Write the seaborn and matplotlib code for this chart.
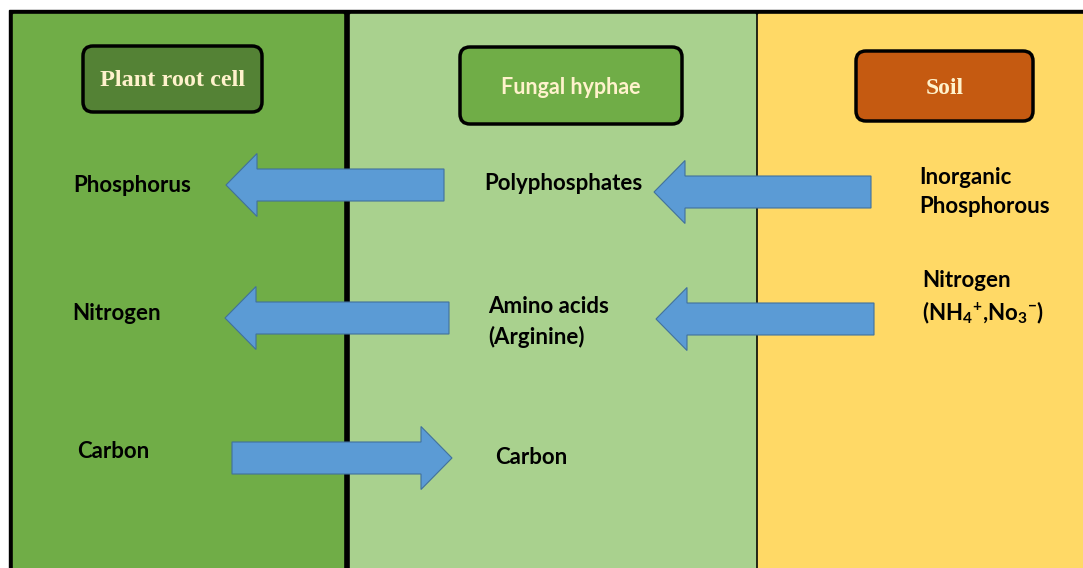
import matplotlib
matplotlib.use('Agg')
import matplotlib.pyplot as plt
import seaborn as sns
from matplotlib.patches import Rectangle, FancyBboxPatch, FancyArrow

# panels (left to right)
panel_names = ['Plant root cell', 'Fungal hyphae', 'Soil']
panel_colors = ['#70AD47', '#A9D18E', '#FFD966']
header_colors = ['#548235', '#70AD47', '#C55A11']
header_fonts = ['Liberation Serif', 'Lato', 'Liberation Serif']

# what each panel holds, row by row
root_labels = ['Phosphorus', 'Nitrogen', 'Carbon']
hyphae_labels = ['Polyphosphates', 'Amino acids\n(Arginine)', 'Carbon']
soil_labels = ['Inorganic\nPhosphorous',
               'Nitrogen\n(NH$_4$$^{{+}}$,No$_3$$^{{-}}$)', '']

# transfers: (from panel, to panel, row)
flows = [(1, 0, 0), (2, 1, 0), (1, 0, 1), (2, 1, 1), (0, 1, 2)]

sns.set_style('white')
plt.rcParams['font.family'] = ['Lato', 'DejaVu Sans']
plt.rcParams['mathtext.fontset'] = 'custom'
plt.rcParams['mathtext.bf'] = 'Lato:bold'
plt.rcParams['mathtext.rm'] = 'Lato:bold'
plt.rcParams['mathtext.default'] = 'bf'

W, H = 1083, 568
fig = plt.figure(figsize=(W / 100, H / 100), dpi=100)
ax = fig.add_axes([0, 0, 1, 1])
ax.set_xlim(0, W)
ax.set_ylim(H, 0)
ax.axis('off')

# layout (pixel space)
panel_x = [(13, 343), (350, 755), (758, W)]
box_rect = [(83, 46, 179, 66), (460, 47, 222, 77), (856, 51, 177, 70)]
header_size = [17.5, 15.5, 17]
label_x = [[73, 72, 77], [484, 488, 495], [919, 922, 922]]
label_y = [[186, 313, 452], [184, 322, 458], [192, 298, 0]]
# one entry per flow: tail x, tip x, centre y
flow_tail = [444, 871, 449, 874, 232]
flow_tip = [226, 654, 225, 656, 452]
flow_y = [185, 192, 318, 319, 458]

# frame and panels
ax.add_patch(Rectangle((9, 10), W - 9, H - 10, color='black', zorder=0))
for (x0, x1), c in zip(panel_x, panel_colors):
    ax.add_patch(Rectangle((x0, 14), x1 - x0, H - 14, color=c, zorder=1))

# header boxes
for i, name in enumerate(panel_names):
    bx, by, bw, bh = box_rect[i]
    ax.add_patch(FancyBboxPatch((bx, by), bw, bh,
                                boxstyle='round,pad=0,rounding_size=10',
                                facecolor=header_colors[i], edgecolor='black',
                                linewidth=2.5, zorder=3))
    ax.text(bx + bw / 2, by + bh / 2 + 2, name, ha='center', va='center',
            fontsize=header_size[i], fontweight='bold', color='#FFF2CC',
            family=header_fonts[i], zorder=4)

# arrows
for k, (src, dst, row) in enumerate(flows):
    ax.add_patch(FancyArrow(flow_tail[k], flow_y[k], flow_tip[k] - flow_tail[k], 0,
                            width=32, head_width=63, head_length=31,
                            length_includes_head=True,
                            facecolor='#5B9BD5', edgecolor='#41719C',
                            linewidth=0.8, zorder=2))

# labels
for col, labels in enumerate([root_labels, hyphae_labels, soil_labels]):
    for row, lab in enumerate(labels):
        if not lab:
            continue
        ax.text(label_x[col][row], label_y[col][row], lab, ha='left',
                va='center', fontsize=16, fontweight='bold', color='black',
                linespacing=1.45, zorder=4)

fig.savefig('out.png', dpi=100)
